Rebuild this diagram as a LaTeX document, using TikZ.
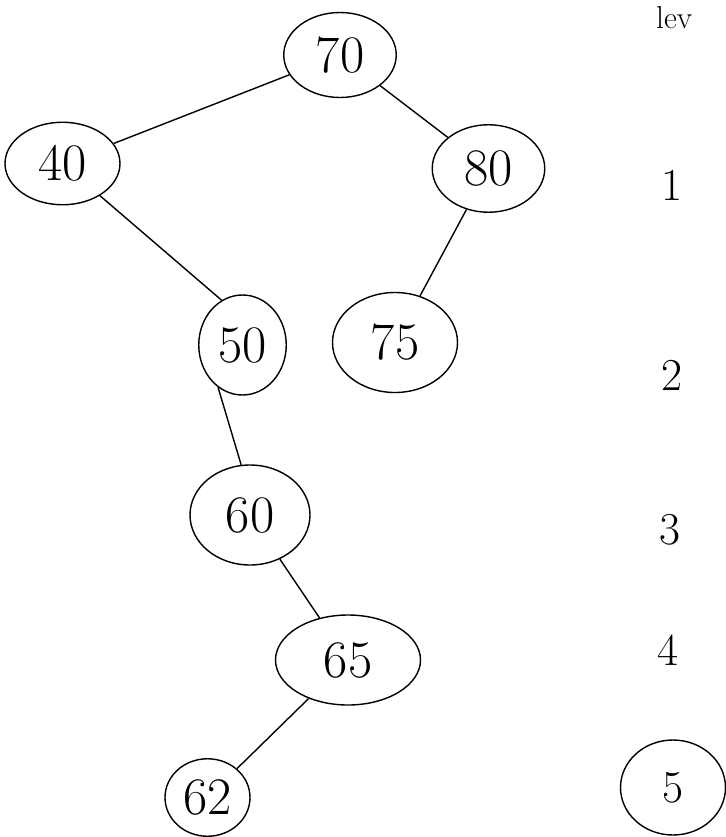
\documentclass[tikz,border=0pt]{standalone}
\usepackage{tikz}
\usetikzlibrary{shapes.geometric}

\begin{document}
\begin{tikzpicture}[
                key/.style={draw, ellipse, thick, inner sep=0pt, font=\fontsize{30}{34}\selectfont},
                edge/.style={thick},
                lvl/.style={font=\fontsize{26}{30}\selectfont}
            ]

            \useasboundingbox (0,0) rectangle (14.52,-16.74);

            \node[key, minimum width=2.25cm, minimum height=1.7cm] (n70) at (6.8,-1.1) {70};
            \node[key, minimum width=2.3cm, minimum height=1.65cm] (n40) at (1.25,-3.27) {40};
            \node[key, minimum width=2.25cm, minimum height=1.75cm] (n80) at (9.77,-3.37) {80};
            \node[key, minimum width=1.75cm, minimum height=2.0cm] (n50) at (4.85,-6.9) {50};
            \node[key, minimum width=2.5cm, minimum height=2.0cm] (n75) at (7.9,-6.85) {75};
            \node[key, minimum width=2.4cm, minimum height=2.0cm] (n60) at (5.0,-10.3) {60};
            \node[key, minimum width=2.9cm, minimum height=1.8cm] (n65) at (6.96,-13.2) {65};
            \node[key, minimum width=1.7cm, minimum height=1.55cm] (n62) at (4.15,-15.95) {62};

            \draw[edge] (n70) -- (n40);
            \draw[edge] (n70) -- (n80);
            \draw[edge] (n40) -- (n50.115);
            \draw[edge] (n80) -- (n75);
            \draw[edge] (n50.240) -- (n60.100);
            \draw[edge] (n60) -- (n65);
            \draw[edge] (n65) -- (n62);

            % level column
            \node[lvl, anchor=west, font=\fontsize{18}{20}\selectfont] (lev) at (13.0,-0.35) {lev};
            \node[lvl] (l1) at (13.44,-3.7) {1};
            \node[lvl] (l2) at (13.44,-7.5) {2};
            \node[lvl] (l3) at (13.4,-10.6) {3};
            \node[lvl] (l4) at (13.36,-13.0) {4};
            \node[key, minimum width=2.1cm, minimum height=1.9cm, font=\fontsize{26}{30}\selectfont] (l5) at (13.46,-15.75) {5};

        \end{tikzpicture}
\end{document}
